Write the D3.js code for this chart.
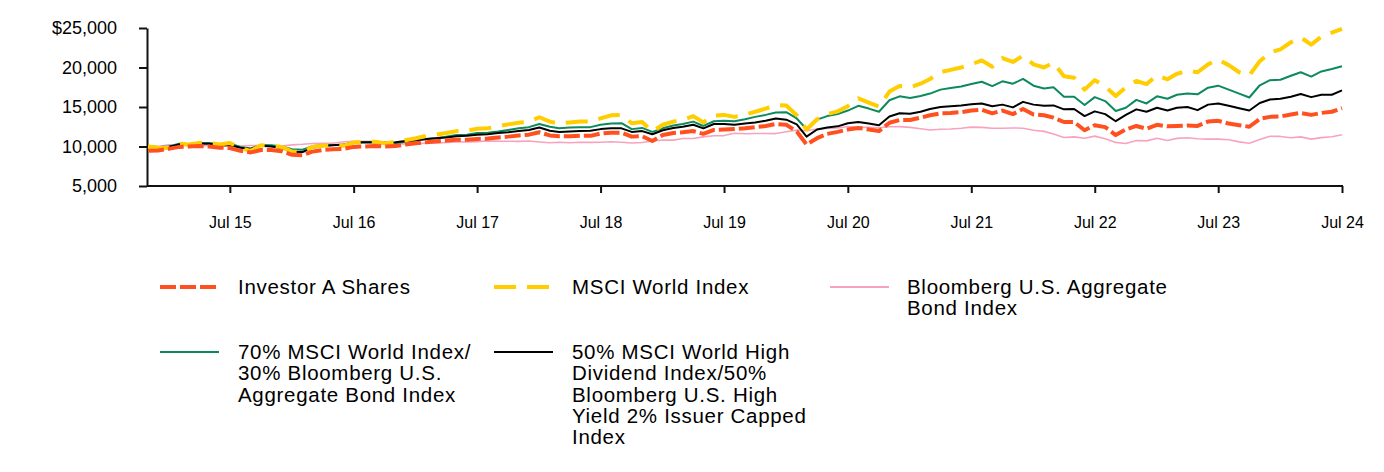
<!DOCTYPE html>
<html>
<head>
<meta charset="utf-8">
<script src="https://cdn.jsdelivr.net/npm/d3@7"></script>
<style>
  html, body { margin: 0; padding: 0; background: #fff; }
  svg { display: block; font-family: "Liberation Sans", Arial, Helvetica, sans-serif; }
</style>
</head>
<body>
<svg id="chart" width="1384" height="472"></svg>
<script>
// ---- DATA (month-end values, Nov 2014 .. Jul 2024) ----
const startMonth = new Date(2014, 10, 1);
const endMonth = new Date(2024, 6, 1);

const investorA = [
  9475, 9500, 9700, 9950, 10000, 10050, 10000, 9850, 9800, 9450,
  9250, 9550, 9550, 9400, 8950, 8900, 9350, 9550, 9650, 9700,
  9950, 10000, 10050, 10000, 10050, 10250, 10400, 10550, 10650, 10750,
  10850, 10850, 10950, 11000, 11150, 11250, 11400, 11500, 11800, 11400,
  11300, 11300, 11350, 11350, 11650, 11750, 11750, 11250, 11300, 10700,
  11450, 11700, 11800, 11950, 11600, 12100, 12150, 12200, 12300, 12450,
  12600, 12850, 12750, 11900, 10250, 11050, 11600, 11850, 12150, 12350,
  12150, 11950, 13000, 13350, 13350, 13650, 13950, 14200, 14250, 14350,
  14550, 14650, 14200, 14550, 14100, 14750, 14050, 13950, 13650, 13100,
  13100, 12050, 12700, 12450, 11450, 12150, 12600, 12250, 12750, 12550,
  12600, 12650, 12600, 13150, 13250, 12900, 12700, 12500, 13500, 13750,
  13800, 14050, 14250, 14000, 14250, 14400, 14850
];

const msciWorld = [
  10000, 9850, 9800, 10350, 10250, 10450, 10450, 10250, 10450, 9800,
  9450, 10150, 10100, 9950, 9350, 9300, 9950, 10100, 10200, 10100,
  10500, 10550, 10600, 10400, 10550, 10800, 11050, 11350, 11500, 11700,
  11950, 12000, 12250, 12300, 12550, 12800, 13000, 13150, 13700, 13150,
  12900, 13050, 13150, 13150, 13550, 13950, 14000, 12950, 13100, 11900,
  12750, 13150, 13350, 13850, 13050, 13900, 14000, 13750, 14050, 14400,
  14800, 15250, 15200, 13950, 12150, 13450, 14100, 14450, 15100, 16100,
  15550, 15050, 16950, 17650, 17500, 17950, 18550, 19400, 19700, 20000,
  20400, 20900, 20100, 21200, 20700, 21500, 20400, 20000, 20600, 18900,
  18700, 17200, 18400, 17600, 16400, 17500, 18300, 17900, 19000, 18500,
  19200, 19600, 19400, 20400, 21000, 20300, 19400, 19000, 20800, 21900,
  22300, 23200, 23800, 22900, 23900, 24400, 24900
];

const bbgAgg = [
  10000, 10009, 10219, 10123, 10170, 10133, 10109, 9999, 10069, 10055,
  10123, 10125, 10099, 10066, 10205, 10277, 10372, 10411, 10414, 10602,
  10669, 10657, 10651, 10570, 10319, 10334, 10355, 10424, 10419, 10499,
  10580, 10569, 10615, 10710, 10659, 10665, 10651, 10700, 10577, 10477,
  10544, 10466, 10540, 10527, 10529, 10597, 10529, 10446, 10509, 10702,
  10815, 10809, 11016, 11020, 11216, 11357, 11382, 11677, 11615, 11650,
  11644, 11636, 11859, 12073, 12002, 12216, 12273, 12350, 12534, 12433,
  12427, 12371, 12492, 12510, 12420, 12241, 12088, 12183, 12224, 12309,
  12447, 12424, 12316, 12312, 12349, 12317, 12052, 11917, 11586, 11147,
  11219, 11043, 11312, 10992, 10517, 10380, 10762, 10714, 11044, 10758,
  11031, 11098, 10977, 10938, 10930, 10860, 10584, 10417, 10889, 11306,
  11276, 11117, 11219, 10935, 11121, 11227, 11490
];

const blend7030 = [
  10000, 9950, 10000, 10350, 10300, 10450, 10450, 10300, 10400, 9950,
  9750, 10200, 10150, 10000, 9650, 9600, 10050, 10150, 10200, 10200,
  10500, 10500, 10550, 10400, 10400, 10600, 10750, 10950, 11050, 11250,
  11450, 11500, 11700, 11750, 11900, 12100, 12300, 12450, 12850, 12500,
  12300, 12400, 12450, 12450, 12750, 12900, 12950, 12200, 12350, 11850,
  12300, 12650, 12850, 13150, 12600, 13200, 13250, 13200, 13450, 13750,
  14000, 14300, 14350, 13550, 12200, 13400, 13850, 14100, 14550, 15150,
  14800, 14400, 15850, 16350, 16150, 16400, 16700, 17200, 17400, 17600,
  17900, 18200, 17650, 18250, 17950, 18550, 17700, 17350, 17500, 16300,
  16300, 15250, 16250, 15750, 14500, 14900, 15900, 15450, 16350, 16050,
  16550, 16700, 16600, 17450, 17700, 17200, 16700, 16200, 17750, 18400,
  18450, 18950, 19400, 18850, 19500, 19800, 20150
];

const blend5050 = [
  10000, 9900, 9950, 10250, 10200, 10350, 10350, 10150, 10200, 9850,
  9700, 10100, 10000, 9800, 9350, 9300, 9850, 10050, 10150, 10250,
  10500, 10550, 10550, 10500, 10550, 10700, 10800, 10950, 11050, 11150,
  11300, 11350, 11500, 11550, 11700, 11800, 11950, 12100, 12400, 12000,
  11850, 11900, 11950, 12000, 12200, 12300, 12300, 11850, 11950, 11550,
  12050, 12350, 12500, 12750, 12300, 12850, 12850, 12750, 12900, 13050,
  13250, 13550, 13400, 12800, 11250, 12150, 12400, 12550, 12950, 13100,
  12900, 12700, 13800, 14200, 14150, 14400, 14750, 15000, 15100, 15200,
  15350, 15450, 15100, 15300, 14950, 15650, 15300, 15150, 15200, 14700,
  14750, 13850, 14450, 14100, 13200, 14000, 14700, 14400, 14900, 14550,
  14900, 15000, 14600, 15300, 15450, 15150, 14850, 14550, 15500, 15950,
  16050, 16300, 16650, 16250, 16550, 16550, 17100
];

const legendLines = [
  ["Investor A Shares"],
  ["MSCI World Index"],
  ["Bloomberg U.S. Aggregate", "Bond Index"],
  ["70% MSCI World Index/", "30% Bloomberg U.S.", "Aggregate Bond Index"],
  ["50% MSCI World High", "Dividend Index/50%", "Bloomberg U.S. High", "Yield 2% Issuer Capped", "Index"]
];

const xTickYears = [2015, 2016, 2017, 2018, 2019, 2020, 2021, 2022, 2023, 2024];
const xTickLabels = ["Jul 15", "Jul 16", "Jul 17", "Jul 18", "Jul 19", "Jul 20", "Jul 21", "Jul 22", "Jul 23", "Jul 24"];
const yTickValues = [5000, 10000, 15000, 20000, 25000];
const yTickLabels = ["5,000", "10,000", "15,000", "20,000", "$25,000"];

// ---- STYLES ----
const styles = [
  { color: "#ff5020", width: 4, dash: "16,4" },    // Investor A
  { color: "#ffcd00", width: 4, dash: "22,11" },   // MSCI World
  { color: "#f7a3c0", width: 1.6, dash: null },    // Agg
  { color: "#0c8a5c", width: 2, dash: null },      // 70/30
  { color: "#000000", width: 2, dash: null }       // 50/50
];
const drawOrder = [2, 3, 4, 1, 0];

const months = d3.timeMonth.range(startMonth, d3.timeMonth.offset(endMonth, 1));
const allSeries = [investorA, msciWorld, bbgAgg, blend7030, blend5050];

const svg = d3.select("#chart");

const x = d3.scaleTime().domain([startMonth, endMonth]).range([148, 1342]);
const y = d3.scaleLinear().domain([5000, 25000]).range([186, 28]);

// Y axis
const yAxis = d3.axisLeft(y)
  .tickValues(yTickValues)
  .tickFormat((d, i) => yTickLabels[i])
  .tickSizeInner(8).tickSizeOuter(0).tickPadding(22);
const gy = svg.append("g").attr("transform", "translate(147,0)").call(yAxis);
gy.select(".domain").attr("stroke", "#111").attr("stroke-width", 2);
gy.selectAll(".tick line").attr("stroke", "#111").attr("stroke-width", 2);
gy.selectAll(".tick text").attr("fill", "#000").style("font-size", "18px")
  .style("font-family", "'Liberation Sans', Arial, sans-serif");

// X axis
const xTickDates = xTickYears.map(yr => new Date(yr, 6, 1));
const xAxis = d3.axisBottom(x)
  .tickValues(xTickDates)
  .tickFormat((d, i) => xTickLabels[i])
  .tickSizeInner(7).tickSizeOuter(0).tickPadding(24);
const gx = svg.append("g").attr("transform", "translate(0,186)").call(xAxis);
gx.select(".domain").attr("stroke", "#111").attr("stroke-width", 2)
  .attr("d", `M147,0H${1343}`);
gx.selectAll(".tick line").attr("stroke", "#111").attr("stroke-width", 2);
gx.selectAll(".tick text").attr("fill", "#000").style("font-size", "16px")
  .style("font-family", "'Liberation Sans', Arial, sans-serif");

// Lines
const line = d3.line()
  .x((d, i) => x(months[i]))
  .y(d => y(d))
  .curve(d3.curveLinear);

const gLines = svg.append("g");
drawOrder.forEach(k => {
  const s = styles[k];
  const p = gLines.append("path")
    .datum(allSeries[k])
    .attr("fill", "none")
    .attr("stroke", s.color)
    .attr("stroke-width", s.width)
    .attr("stroke-linejoin", "round")
    .attr("d", line);
  if (s.dash) p.attr("stroke-dasharray", s.dash);
});

// Legend
const legendPos = [
  { lx: 160, tx: 238, ty: 287 },
  { lx: 494, tx: 572, ty: 287 },
  { lx: 830, tx: 907, ty: 287 },
  { lx: 160, tx: 238, ty: 352 },
  { lx: 494, tx: 572, ty: 352 }
];
const gLeg = svg.append("g");
legendPos.forEach((p, k) => {
  const s = styles[k];
  const ln = gLeg.append("line")
    .attr("x1", p.lx).attr("x2", p.lx + 59)
    .attr("y1", p.ty).attr("y2", p.ty)
    .attr("stroke", s.color)
    .attr("stroke-width", s.width === 1.6 ? 2 : s.width);
  if (s.dash) ln.attr("stroke-dasharray", s.dash);
  const t = gLeg.append("text")
    .attr("x", p.tx).attr("y", p.ty)
    .attr("fill", "#000")
    .style("font-size", "20.5px")
    .style("letter-spacing", "0.7px");
  legendLines[k].forEach((str, j) => {
    t.append("tspan").attr("x", p.tx).attr("y", p.ty + j * 21.3)
      .attr("dy", "0.35em").text(str);
  });
});
</script>
</body>
</html>
